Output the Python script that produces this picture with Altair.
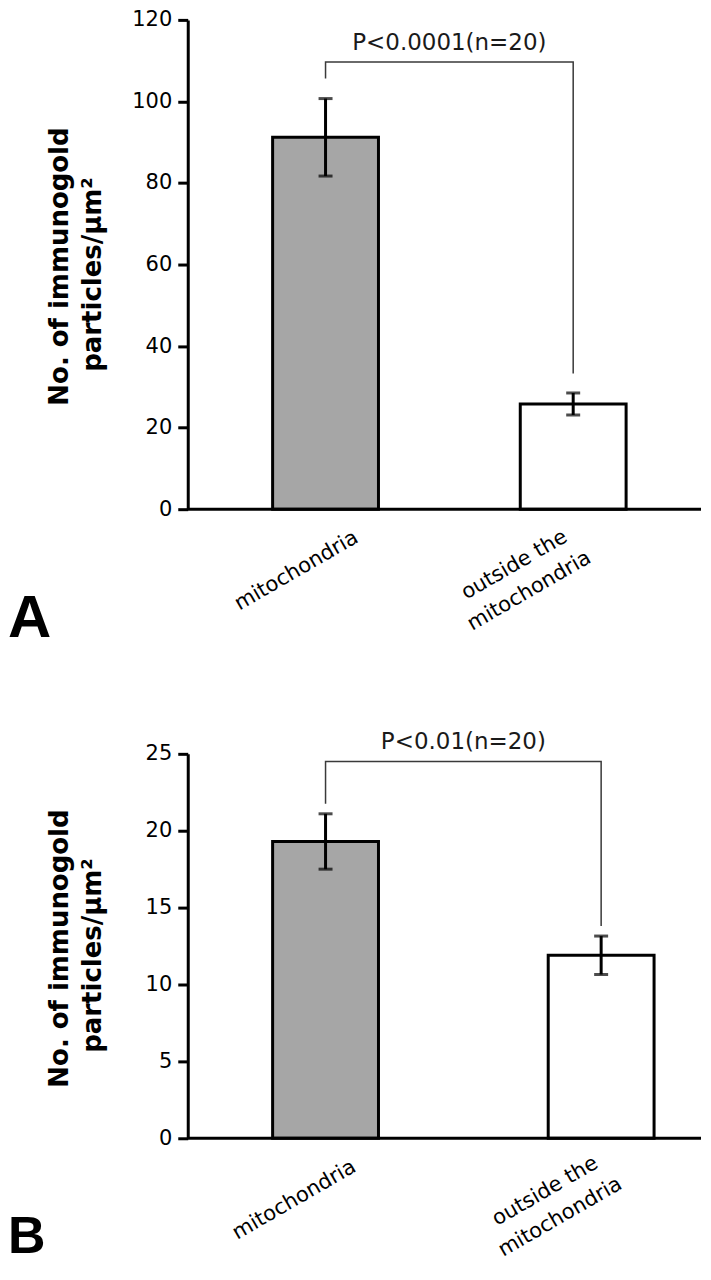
import altair as alt
import pandas as pd

# ---------------- data ----------------
categories = ["mitochondria", "outside the mitochondria"]
category_lines = [["mitochondria"], ["outside the", "mitochondria"]]
bar_colors = ["#a6a6a6", "#ffffff"]

a_means = [91.2, 25.8]
a_errors = [9.5, 2.7]
a_ticks = [0, 20, 40, 60, 80, 100, 120]
a_ymax = 120
a_bracket_top = 109.7
a_leg_bottoms = [105.6, 33.3]
a_p_label = "P<0.0001(n=20)"
a_p_y = 112.7

b_means = [19.3, 11.9]
b_errors = [1.8, 1.25]
b_ticks = [0, 5, 10, 15, 20, 25]
b_ymax = 25
b_bracket_top = 24.5
b_leg_bottoms = [21.75, 13.8]
b_p_label = "P<0.01(n=20)"
b_p_y = 25.3

y_title_lines = ["No. of immunogold", "particles/µm²"]
panel_letters = ["A", "B"]

FONT = "DejaVu Sans"
LETTER_FONT = "Liberation Sans"

# ---------------- layout / style (pixels) ----------------
# label offsets are (dx, dy) in the rotated text frame
A_STYLE = dict(height=490, xrange=[85, 439], p_inner=0.5726, p_dx=124,
               title_x=[-128, -95], title_y=[247, 255],
               letter_size=60, letter_y=618,
               label_offsets=[[(-56, 39)], [(-79, 19), (-79, 49)]])
B_STYLE = dict(height=385, xrange=[85, 467], p_inner=0.6159, p_dx=138,
               title_x=[-128, -95], title_y=[195, 202],
               letter_size=52, letter_y=500,
               label_offsets=[[(-58, 38)], [(-75, 18), (-75, 48)]])


def panel(means, errors, ticks, ymax, bracket_top, leg_bottoms, p_label, p_y, letter, st):
    df = pd.DataFrame({
        "cat": categories,
        "mean": means,
        "lo": [m - e for m, e in zip(means, errors)],
        "hi": [m + e for m, e in zip(means, errors)],
        "color": bar_colors,
    })
    bracket = pd.DataFrame({
        "cat": [categories[0], categories[0], categories[1], categories[1]],
        "v": [leg_bottoms[0], bracket_top, bracket_top, leg_bottoms[1]],
        "o": [0, 1, 2, 3],
    })
    ptext = pd.DataFrame({"cat": [categories[0]], "v": [p_y], "t": [p_label]})
    base0 = pd.DataFrame({"v": [0]})

    xaxis = alt.Axis(title=None, domain=False, ticks=False, labels=False)
    xscale = alt.Scale(range=st["xrange"], paddingInner=st["p_inner"], paddingOuter=0)

    yaxis = alt.Axis(
        values=ticks, grid=False, title=None,
        labelFont=FONT, labelFontSize=21, labelColor="black", labelPadding=6,
        tickSize=10, tickWidth=3, tickColor="black",
        domainWidth=3, domainColor="black",
    )
    yscale = alt.Scale(domain=[0, ymax], nice=False, zero=True)

    def X():
        return alt.X("cat:N", sort=categories, scale=xscale, axis=xaxis)

    def Y(field):
        return alt.Y(field, scale=yscale, axis=yaxis)

    layers = []
    layers.append(alt.Chart(df).mark_bar(stroke="black", strokeWidth=3).encode(
        x=X(), y=Y("mean:Q"), fill=alt.Fill("color:N", scale=None)
    ))
    layers.append(alt.Chart(df).mark_rule(color="black", strokeWidth=3).encode(
        x=X(), y=Y("lo:Q"), y2="hi:Q"
    ))
    for f in ["hi:Q", "lo:Q"]:
        layers.append(alt.Chart(df).mark_tick(orient="horizontal", size=14, thickness=3, color="black").encode(
            x=X(), y=Y(f)
        ))
    layers.append(alt.Chart(base0).mark_rule(color="black", strokeWidth=3).encode(y=Y("v:Q")))
    layers.append(alt.Chart(bracket).mark_line(color="#3a3a3a", strokeWidth=1.5, strokeJoin="miter").encode(
        x=X(), y=Y("v:Q"), order="o:Q"
    ))
    layers.append(alt.Chart(ptext).mark_text(
        dx=st["p_dx"], align="center", baseline="alphabetic", font=FONT, fontSize=23, color="#1a1a1a"
    ).encode(x=X(), y=Y("v:Q"), text="t:N"))

    # category labels (rotated), one text mark per line, placed via the band scale
    for ci, lines in enumerate(category_lines):
        for li, line in enumerate(lines):
            ddx, ddy = st["label_offsets"][ci][li]
            ldf = pd.DataFrame({"cat": [categories[ci]], "v": [0], "t": [line]})
            layers.append(alt.Chart(ldf).mark_text(
                angle=330, align="center", baseline="middle", dx=ddx, dy=ddy,
                font=FONT, fontSize=21, color="black"
            ).encode(x=X(), y=Y("v:Q"), text="t:N"))

    # y-axis title, two rotated lines
    for li, line in enumerate(y_title_lines):
        tdf = pd.DataFrame({"t": [line]})
        layers.append(alt.Chart(tdf).mark_text(
            angle=270, align="center", baseline="middle", font=FONT, fontSize=26,
            fontWeight="bold", color="black"
        ).encode(x=alt.value(st["title_x"][li]), y=alt.value(st["title_y"][li]), text="t:N"))

    # panel letter
    layers.append(alt.Chart(pd.DataFrame({"t": [letter]})).mark_text(
        align="left", baseline="alphabetic", font=LETTER_FONT, fontSize=st["letter_size"],
        fontWeight="bold", color="black"
    ).encode(x=alt.value(-180), y=alt.value(st["letter_y"]), text="t:N"))

    return alt.layer(*layers).properties(width=514, height=st["height"])


pa = panel(a_means, a_errors, a_ticks, a_ymax, a_bracket_top, a_leg_bottoms, a_p_label, a_p_y,
           panel_letters[0], A_STYLE)
pb = panel(b_means, b_errors, b_ticks, b_ymax, b_bracket_top, b_leg_bottoms, b_p_label, b_p_y,
           panel_letters[1], B_STYLE)

chart = alt.vconcat(pa, pb, spacing=245, bounds="flush").configure_view(stroke=None).properties(
    padding=0, background="white"
)

chart.save("out.html", embed_options={"renderer": "svg", "actions": False})
